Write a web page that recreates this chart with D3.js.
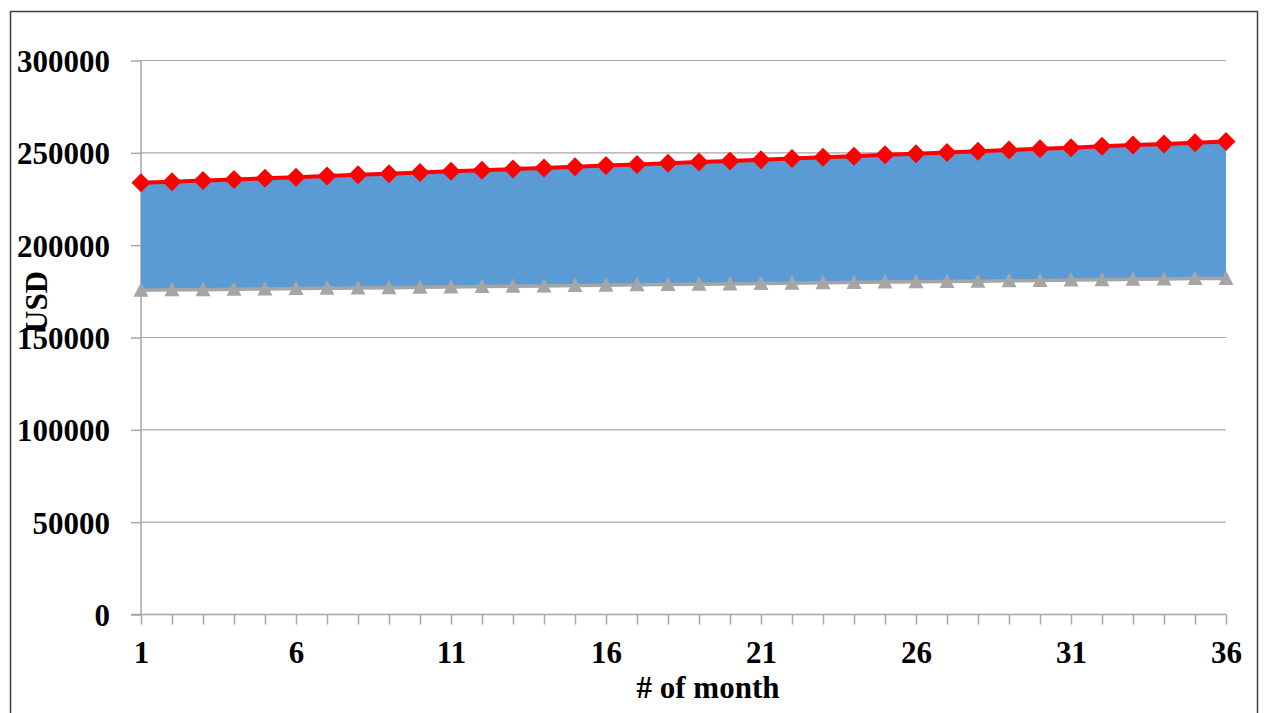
<!DOCTYPE html>
<html>
<head>
<meta charset="utf-8">
<script src="https://cdn.jsdelivr.net/npm/d3@7"></script>
<style>
  body { margin: 0; background: #fff; }
  svg text { font-family: "Liberation Serif", "Times New Roman", serif; font-weight: bold; fill: #000; }
</style>
</head>
<body>
<script>
// months 1..36
var months = d3.range(1, 37);
var upper = [233800, 234400, 235000, 235600, 236200, 236800, 237500, 238100, 238700, 239300,
             240000, 240600, 241200, 241800, 242500, 243100, 243700, 244400, 245000, 245600,
             246300, 246900, 247600, 248200, 248900, 249500, 250200, 250800, 251500, 252200,
             252800, 253500, 254200, 254800, 255500, 256200];
var lower = [175600, 175800, 175900, 176100, 176300, 176500, 176700, 176800, 177000, 177200,
             177400, 177600, 177800, 177900, 178100, 178300, 178500, 178700, 178900, 179000,
             179200, 179400, 179600, 179800, 180000, 180200, 180300, 180500, 180700, 180900,
             181100, 181300, 181500, 181700, 181900, 182000];
var yTicks = [0, 50000, 100000, 150000, 200000, 250000, 300000];
var xLabels = [1, 6, 11, 16, 21, 26, 31, 36];

var W = 1264, H = 713;
var GRID = '#a6a6a6';
var FONT = '31px';

var svg = d3.select('body').append('svg')
  .attr('width', W)
  .attr('height', H);

// outer frame
svg.append('rect')
  .attr('x', 10.5).attr('y', 11.5)
  .attr('width', 1247).attr('height', 720)
  .attr('fill', 'none')
  .attr('stroke', '#404040')
  .attr('stroke-width', 1.5);

var x = d3.scaleLinear().domain([1, 36]).range([141, 1226]);
var y = d3.scaleLinear().domain([0, 300000]).range([614.5, 60.5]);

// gridlines
svg.append('g').selectAll('line')
  .data(yTicks.filter(function (d) { return d > 0; }))
  .enter().append('line')
    .attr('x1', x(1)).attr('x2', x(36))
    .attr('y1', function (d) { return y(d); })
    .attr('y2', function (d) { return y(d); })
    .attr('stroke', GRID)
    .attr('stroke-width', 1.2);

// y axis
var yAxis = svg.append('g')
  .attr('transform', 'translate(' + x(1) + ',0)')
  .call(d3.axisLeft(y).tickValues(yTicks).tickSize(10).tickPadding(12).tickFormat(d3.format('d')));
yAxis.selectAll('line, path').attr('stroke', GRID).attr('stroke-width', 1.5);
yAxis.select('.domain').attr('d', 'M0,' + y(300000) + 'V' + y(0));
yAxis.selectAll('text').style('font-size', FONT).attr('dy', '0.35em').attr('x', -31);

// x axis
var xAxis = svg.append('g')
  .attr('transform', 'translate(0,' + y(0) + ')')
  .call(d3.axisBottom(x).tickValues(months).tickSize(10).tickPadding(16)
    .tickFormat(function (d) { return xLabels.indexOf(d) >= 0 ? d : ''; }));
xAxis.selectAll('line, path').attr('stroke', GRID).attr('stroke-width', 1.5);
xAxis.select('.domain').attr('d', 'M' + (x(1) - 10) + ',0H' + x(36));
xAxis.selectAll('text').style('font-size', FONT);

// band between the two series
var band = d3.area()
  .x(function (d, i) { return x(months[i]); })
  .y0(function (d, i) { return y(lower[i]); })
  .y1(function (d, i) { return y(upper[i]); });
svg.append('path')
  .datum(upper)
  .attr('d', band)
  .attr('fill', '#5b9bd5');

var line = d3.line()
  .x(function (d, i) { return x(months[i]); })
  .y(function (d) { return y(d); });

// lower series
svg.append('path').datum(lower)
  .attr('d', line)
  .attr('fill', 'none')
  .attr('stroke', '#a5a5a5')
  .attr('stroke-width', 3.5);
svg.append('g').selectAll('path')
  .data(lower)
  .enter().append('path')
    .attr('transform', function (d, i) { return 'translate(' + x(months[i]) + ',' + y(d) + ')'; })
    .attr('d', 'M0,-8L7.5,6.5L-7.5,6.5Z')
    .attr('fill', '#a5a5a5');

// upper series
svg.append('path').datum(upper)
  .attr('d', line)
  .attr('fill', 'none')
  .attr('stroke', '#ff0000')
  .attr('stroke-width', 4);
svg.append('g').selectAll('path')
  .data(upper)
  .enter().append('path')
    .attr('transform', function (d, i) { return 'translate(' + x(months[i]) + ',' + y(d) + ')'; })
    .attr('d', 'M0,-9.5L9.5,0L0,9.5L-9.5,0Z')
    .attr('fill', '#ff0000');

// axis titles
svg.append('text')
  .attr('x', 708).attr('y', 698)
  .attr('text-anchor', 'middle')
  .style('font-size', FONT)
  .text('# of month');
svg.append('text')
  .attr('transform', 'translate(47,302) rotate(-90)')
  .attr('text-anchor', 'middle')
  .style('font-size', FONT)
  .text('USD');
</script>
</body>
</html>
